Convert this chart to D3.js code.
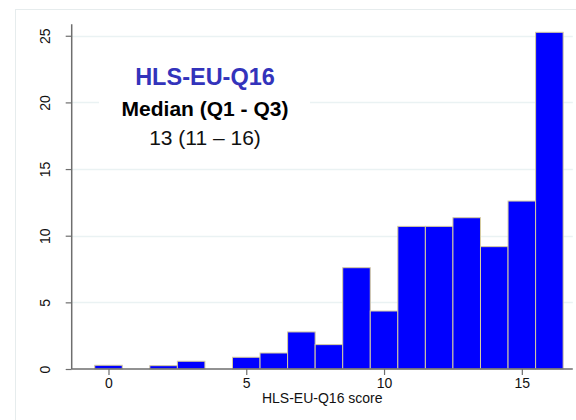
<!DOCTYPE html>
<html>
<head>
<meta charset="utf-8">
<script src="https://cdn.jsdelivr.net/npm/d3@7"></script>
<style>
  body { margin: 0; background: #fff; }
  svg { display: block; font-family: "Liberation Sans", Arial, sans-serif; }
</style>
</head>
<body>
<svg id="chart" width="576" height="420"></svg>
<script>
// percent of respondents per HLS-EU-Q16 score
var scores = [0, 1, 2, 3, 4, 5, 6, 7, 8, 9, 10, 11, 12, 13, 14, 15, 16];
var percents = [0.28, 0, 0.25, 0.58, 0, 0.88, 1.2, 2.78, 1.83, 7.6, 4.35, 10.7, 10.7, 11.35, 9.18, 12.6, 25.26];
var xTicks = [0, 5, 10, 15];
var yTicks = [0, 5, 10, 15, 20, 25];
var titleLines = ["HLS-EU-Q16", "Median (Q1 - Q3)", "13 (11 \u2013 16)"];
var xLabel = "HLS-EU-Q16 score";

var svg = d3.select("#chart");

var x = d3.scaleLinear().domain([-1.335, 16.85]).range([71.7, 572.8]);
var y = d3.scaleLinear().domain([0, 25.86]).range([369, 24.3]);

// outer graph region border
svg.append("rect")
    .attr("x", 15.5).attr("y", 9.5)
    .attr("width", 600).attr("height", 430)
    .attr("fill", "#fff")
    .attr("stroke", "#e6eced");

// gridlines
svg.append("g").selectAll("line")
    .data(yTicks.filter(function(d) { return d > 0; }))
    .enter().append("line")
    .attr("x1", x.range()[0]).attr("x2", x.range()[1])
    .attr("y1", function(d) { return Math.round(y(d)) + 0.5; })
    .attr("y2", function(d) { return Math.round(y(d)) + 0.5; })
    .attr("stroke", "#eaf2f3")
    .attr("stroke-width", 1.5);

// bars
svg.append("g").selectAll("rect")
    .data(scores.map(function(s, i) { return {s: s, v: percents[i]}; })
        .filter(function(d) { return d.v > 0; }))
    .enter().append("rect")
    .attr("x", function(d) { return x(d.s - 0.5); })
    .attr("width", function(d) { return x(d.s + 0.5) - x(d.s - 0.5); })
    .attr("y", function(d) { return y(d.v); })
    .attr("height", function(d) { return y(0) - y(d.v); })
    .attr("fill", "#0000ff")
    .attr("stroke", "#d6cca0")
    .attr("stroke-width", 1);

// axes
var xAxis = d3.axisBottom(x).tickValues(xTicks).tickSize(6).tickPadding(3);
var gx = svg.append("g").attr("transform", "translate(0," + y(0) + ")").call(xAxis);
gx.select(".domain").attr("stroke", "#6e6e6e").attr("stroke-width", 1.5)
    .attr("d", "M" + x.range()[0] + ",0H" + x.range()[1]);
gx.selectAll(".tick line").attr("stroke", "#6e6e6e").attr("stroke-width", 1.2);
gx.selectAll(".tick text").attr("font-size", 14).attr("fill", "#111")
    .attr("font-family", "Liberation Sans, Arial, sans-serif");

var yAxis = d3.axisLeft(y).tickValues(yTicks).tickSize(6).tickPadding(0).tickFormat(d3.format("d"));
var gy = svg.append("g").attr("transform", "translate(" + x.range()[0] + ",0)").call(yAxis);
gy.select(".domain").attr("stroke", "#6e6e6e").attr("stroke-width", 1.5)
    .attr("d", "M0," + y.range()[0] + "V" + y.range()[1]);
gy.selectAll(".tick line").attr("stroke", "#6e6e6e").attr("stroke-width", 1.2);
gy.selectAll(".tick text")
    .attr("font-size", 14).attr("fill", "#111")
    .attr("font-family", "Liberation Sans, Arial, sans-serif")
    .attr("x", null).attr("dy", null)
    .attr("text-anchor", "middle")
    .attr("transform", "translate(-22,0) rotate(-90)");

// x axis title
svg.append("text")
    .attr("x", (x.range()[0] + x.range()[1]) / 2)
    .attr("y", 403)
    .attr("text-anchor", "middle")
    .attr("font-size", 14)
    .attr("fill", "#111")
    .text(xLabel);

// annotation box
svg.append("rect")
    .attr("x", 99).attr("y", 58).attr("width", 211).attr("height", 100)
    .attr("fill", "#fff");

var lineStyles = [
    {y: 85, size: 23.5, weight: "bold", fill: "#3333bb"},
    {y: 116, size: 21, weight: "bold", fill: "#000"},
    {y: 145, size: 21, weight: "normal", fill: "#111"}
];
svg.append("g").selectAll("text")
    .data(titleLines)
    .enter().append("text")
    .attr("x", 205)
    .attr("y", function(d, i) { return lineStyles[i].y; })
    .attr("text-anchor", "middle")
    .attr("font-size", function(d, i) { return lineStyles[i].size; })
    .attr("font-weight", function(d, i) { return lineStyles[i].weight; })
    .attr("fill", function(d, i) { return lineStyles[i].fill; })
    .text(function(d) { return d; });
</script>
</body>
</html>
